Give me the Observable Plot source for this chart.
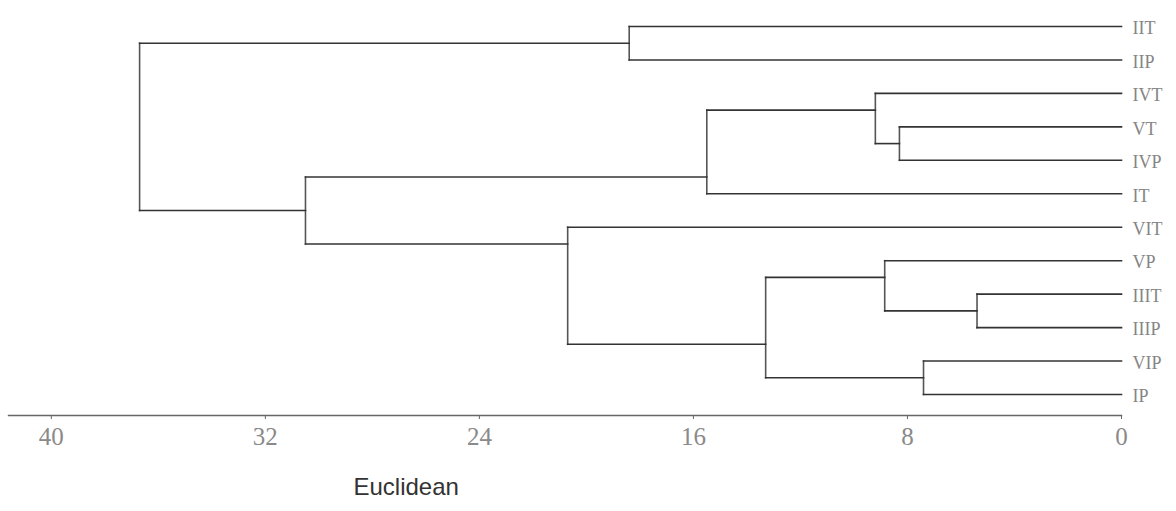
<!DOCTYPE html>
<html>
<head>
<meta charset="utf-8">
<script src="https://cdn.jsdelivr.net/npm/d3@7"></script>
<script src="https://cdn.jsdelivr.net/npm/@observablehq/plot@0.6"></script>
<style>
  html, body { margin: 0; padding: 0; background: #fff; }
  #chart svg { display: block; }
</style>
</head>
<body>
<div id="chart"></div>
<script>
// Leaves, top to bottom
const leaves = ["IIT", "IIP", "IVT", "VT", "IVP", "IT", "VIT", "VP", "IIIT", "IIIP", "VIP", "IP"];
// Merge table (agglomeration order): node id, left member, right member, linkage distance
const nodeIds    = ["n1",   "n2",  "n3",  "n4",  "n5",  "n6",  "n7",  "n8",  "n9",  "n10", "n11"];
const nodeLeft   = ["IIIT", "VT",  "VIP", "VP",  "IVT", "n4",  "n5",  "IIT", "VIT", "n7",  "n8"];
const nodeRight  = ["IIIP", "IVP", "IP",  "n1",  "n2",  "n3",  "IT",  "IIP", "n6",  "n9",  "n10"];
const nodeHeight = [5.4,    8.3,   7.4,   8.85,  9.2,   13.3,  15.5,  18.4,  20.7,  30.5,  36.7];
// Axis
const tickValues = [40, 32, 24, 16, 8, 0];
const axisTitle = "Euclidean";

// ---- layout derived from the merge table ----
const leafIndex = new Map(leaves.map((d, i) => [d, i]));
const nodes = new Map(nodeIds.map((id, i) => [id, {left: nodeLeft[i], right: nodeRight[i], h: nodeHeight[i]}]));
const lastLeaf = id => leafIndex.has(id) ? leafIndex.get(id) : lastLeaf(nodes.get(id).right);
const posY = id => leafIndex.has(id) ? leafIndex.get(id) : lastLeaf(nodes.get(id).left) + 0.5;
const posX = id => leafIndex.has(id) ? 0 : nodes.get(id).h;

const segments = [];
for (const [id, n] of nodes) {
  const yl = posY(n.left), yr = posY(n.right);
  segments.push({x1: n.h, y1: yl, x2: n.h, y2: yr, kind: "v"});
  segments.push({x1: n.h, y1: yl, x2: posX(n.left), y2: yl, kind: "h"});
  segments.push({x1: n.h, y1: yr, x2: posX(n.right), y2: yr, kind: "h"});
}
const leafRows = leaves.map((name, i) => ({name, i}));

const chart = Plot.plot({
  width: 1176,
  height: 511,
  marginLeft: 8,
  marginRight: 55,
  marginTop: 26,
  marginBottom: 96,
  insetBottom: 21,
  style: {background: "#fff"},
  x: {domain: [41.6, 0], axis: null},
  y: {domain: [0, leaves.length - 1], reverse: true, axis: null},
  marks: [
    Plot.frame({anchor: "bottom", stroke: "#666", strokeWidth: 1.4}),
    Plot.axisX({
      ticks: tickValues,
      tickSize: 4,
      tickPadding: 8,
      tickFormat: d => String(d),
      stroke: "#666",
      fill: "#8a8a8a",
      fontFamily: "Liberation Serif, serif",
      fontSize: 25,
      label: null
    }),
    Plot.link(segments, {
      x1: "x1", y1: "y1", x2: "x2", y2: "y2",
      stroke: d => d.kind === "v" ? "#555" : "#333",
      strokeWidth: 1.6,
      strokeLinecap: "square"
    }),
    Plot.text(leafRows, {
      x: () => 0,
      y: "i",
      text: "name",
      dx: 11,
      dy: 2,
      textAnchor: "start",
      fill: "#858585",
      fontFamily: "Liberation Serif, serif",
      fontSize: 18,
      style: "letter-spacing: 2.5px"
    }),
    Plot.text([axisTitle], {
      frameAnchor: "bottom-left",
      text: d => d,
      dx: 345,
      dy: 72,
      textAnchor: "start",
      lineAnchor: "middle",
      fill: "#333",
      fontFamily: "Liberation Sans, Arial, sans-serif",
      fontSize: 24,
      style: "letter-spacing: 2px"
    })
  ]
});
document.getElementById("chart").append(chart);
</script>
</body>
</html>
